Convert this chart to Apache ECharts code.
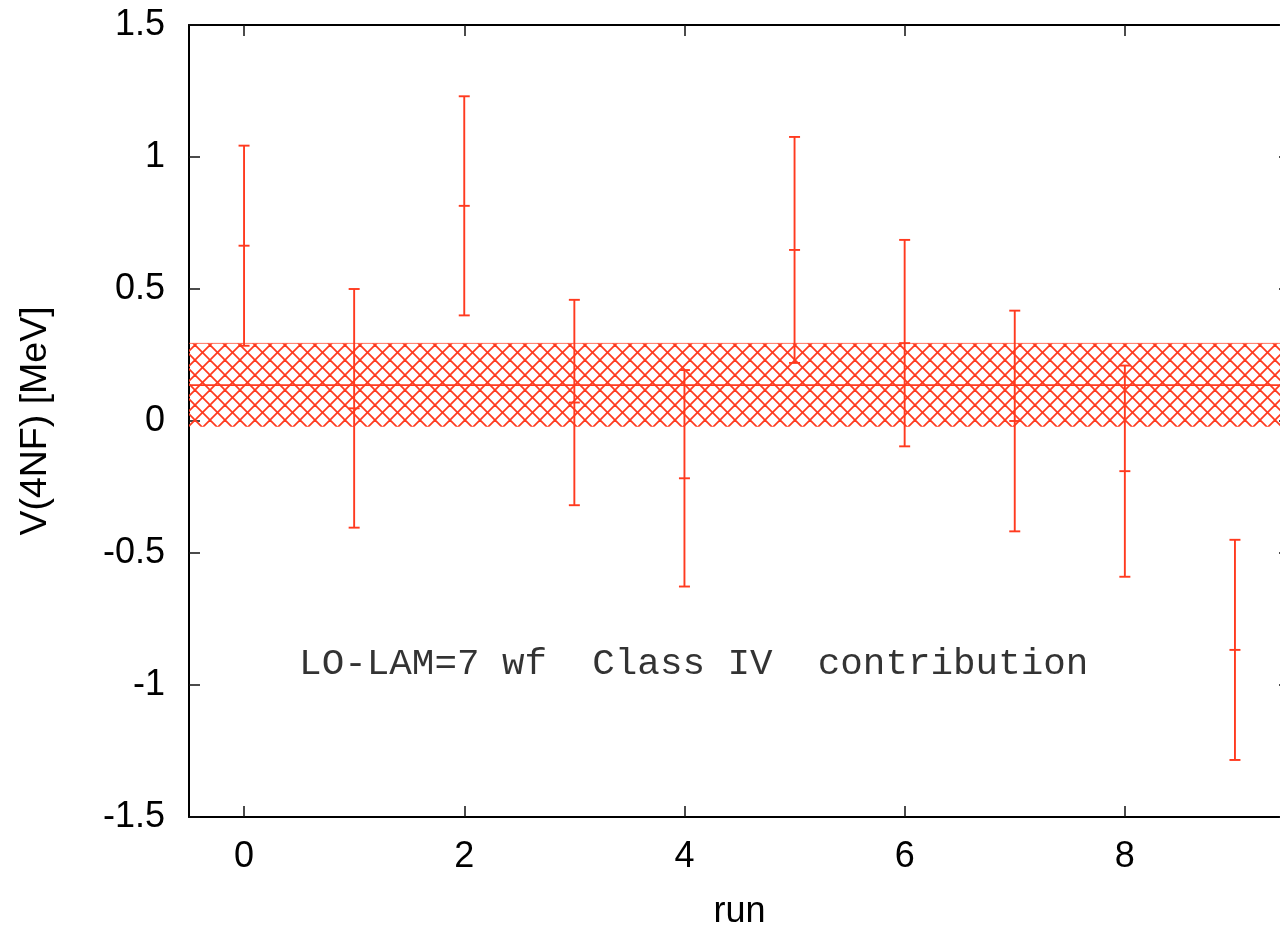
<!DOCTYPE html>
<html><head><meta charset="utf-8">
<script src="https://cdn.jsdelivr.net/npm/echarts@6/dist/echarts.min.js"></script>
<style>html,body{margin:0;padding:0;background:#fff}#c{width:1280px;height:926px}</style>
</head><body><div id="c"></div>
<script>
// ---- data ----
const runs = [0, 1, 2, 3, 4, 5, 6, 7, 8, 9];
const values = [0.664, 0.048, 0.815, 0.070, -0.217, 0.648, 0.295, 0.000, -0.190, -0.867];
const errors = [0.379, 0.452, 0.415, 0.389, 0.410, 0.428, 0.391, 0.418, 0.400, 0.417];
const bandMean = 0.136;
const bandErr = 0.158;
const xTickValues = [0, 2, 4, 6, 8];
const xRange = [-0.5, 9.5];
const yRange = [-1.5, 1.5];
const yInterval = 0.5;
const annotationText = 'LO-LAM=7 wf  Class IV  contribution';
const annotationPos = [0.5, -0.9];

// ---- style ----
const RED = '#ff3a1f';
const SANS = '"Liberation Sans", Arial, Helvetica, sans-serif';
const MONO = '"Liberation Mono", "Courier New", monospace';

function makeHatch(color) {
  const s = 15, c = document.createElement('canvas');
  c.width = s; c.height = s;
  const g = c.getContext('2d');
  g.strokeStyle = color; g.lineWidth = 1.8;
  for (const k of [-s, 0, s]) {
    g.beginPath(); g.moveTo(k, 0); g.lineTo(k + s, s); g.stroke();
    g.beginPath(); g.moveTo(k + s, 0); g.lineTo(k, s); g.stroke();
  }
  return c;
}
const hatch = makeHatch(RED);

const chart = echarts.init(document.getElementById('c'), null, {renderer: 'canvas'});

const axisLine = {show: true, onZero: false, lineStyle: {color: '#000', width: 2}};
const tickStyle = {color: '#111', width: 1.5};

const option = {
  animation: false,
  backgroundColor: '#fff',
  grid: {left: 189, top: 25, width: 1101, height: 792, containLabel: false, outerBoundsMode: 'none'},
  xAxis: [
    {
      type: 'value', min: xRange[0], max: xRange[1], position: 'bottom',
      name: 'run', nameLocation: 'middle', nameGap: 77,
      nameTextStyle: {fontFamily: SANS, fontSize: 36, color: '#000'},
      axisLine: axisLine,
      axisTick: {show: true, inside: true, length: 11, customValues: xTickValues, lineStyle: tickStyle},
      axisLabel: {show: true, customValues: xTickValues, margin: 22, fontFamily: SANS, fontSize: 36, color: '#000'},
      splitLine: {show: false}
    },
    {
      type: 'value', min: xRange[0], max: xRange[1], position: 'top',
      axisLine: axisLine,
      axisTick: {show: true, inside: true, length: 11, customValues: xTickValues, lineStyle: tickStyle},
      axisLabel: {show: false},
      splitLine: {show: false}
    }
  ],
  yAxis: [
    {
      type: 'value', min: yRange[0], max: yRange[1], interval: yInterval, position: 'left',
      name: 'V(4NF) [MeV]', nameLocation: 'middle', nameGap: 134, nameRotate: 90,
      nameTextStyle: {fontFamily: SANS, fontSize: 37.5, color: '#000'},
      axisLine: axisLine,
      axisTick: {show: true, inside: true, length: 11, lineStyle: tickStyle},
      axisLabel: {show: true, margin: 24, padding: [5, 0, 0, 0], fontFamily: SANS, fontSize: 36, color: '#000'},
      splitLine: {show: false}
    },
    {
      type: 'value', min: yRange[0], max: yRange[1], interval: yInterval, position: 'right',
      axisLine: axisLine,
      axisTick: {show: true, inside: true, length: 11, lineStyle: tickStyle},
      axisLabel: {show: false},
      splitLine: {show: false}
    }
  ],
  series: [
    {
      name: 'band', type: 'custom', xAxisIndex: 0, yAxisIndex: 0, clip: true, z: 2,
      data: [[bandMean, bandErr]],
      renderItem: function (params, api) {
        const cs = params.coordSys;
        const m = api.value(0), e = api.value(1);
        const yTop = api.coord([0, m + e])[1];
        const yMid = api.coord([0, m])[1];
        const yBot = api.coord([0, m - e])[1];
        return {
          type: 'group', children: [
            {type: 'rect', shape: {x: cs.x, y: yTop, width: cs.width, height: yBot - yTop},
              style: {fill: {image: hatch, repeat: 'repeat'}, stroke: null}},
            {type: 'line', shape: {x1: cs.x, y1: yTop, x2: cs.x + cs.width, y2: yTop},
              style: {stroke: RED, lineWidth: 1, opacity: 0.7}},
            {type: 'line', shape: {x1: cs.x, y1: yMid, x2: cs.x + cs.width, y2: yMid},
              style: {stroke: RED, lineWidth: 1.6}}
          ]
        };
      }
    },
    {
      name: 'runs', type: 'custom', xAxisIndex: 0, yAxisIndex: 0, clip: true, z: 3,
      data: runs.map((r, i) => [r, values[i], errors[i]]),
      renderItem: function (params, api) {
        const x = api.value(0), y = api.value(1), e = api.value(2);
        const t = api.coord([x, y + e]);
        const b = api.coord([x, y - e]);
        const c = api.coord([x, y]);
        const hw = 5.5;
        const st = {stroke: RED, lineWidth: 1.9, fill: null};
        return {
          type: 'group', children: [
            {type: 'line', shape: {x1: t[0], y1: t[1], x2: b[0], y2: b[1]}, style: st},
            {type: 'line', shape: {x1: t[0] - hw, y1: t[1], x2: t[0] + hw, y2: t[1]}, style: st},
            {type: 'line', shape: {x1: b[0] - hw, y1: b[1], x2: b[0] + hw, y2: b[1]}, style: st},
            {type: 'line', shape: {x1: c[0] - hw, y1: c[1], x2: c[0] + hw, y2: c[1]}, style: st}
          ]
        };
      }
    },
    {
      name: 'annotation', type: 'scatter', xAxisIndex: 0, yAxisIndex: 0, z: 4,
      symbolSize: 0, silent: true,
      data: [annotationPos],
      label: {
        show: true, position: 'right', distance: 0, offset: [0, 5],
        formatter: () => annotationText,
        fontFamily: MONO, fontSize: 37.6, color: '#000'
      }
    }
  ]
};
chart.setOption(option);
</script>
</body></html>
